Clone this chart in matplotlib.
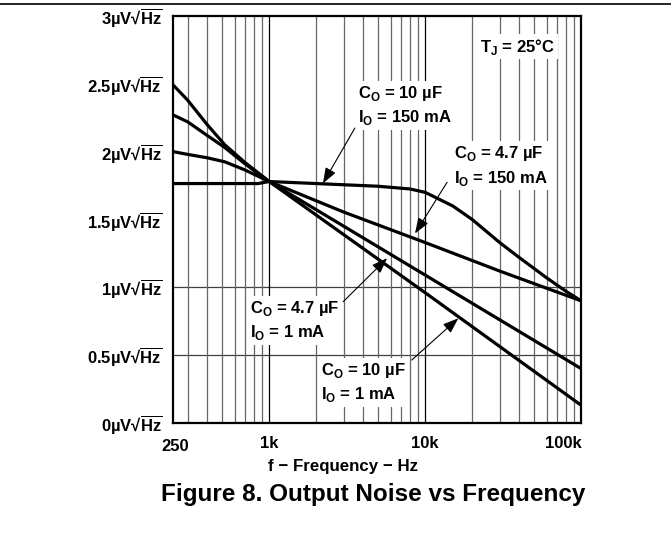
import matplotlib
matplotlib.use("Agg")
import matplotlib.pyplot as plt
from matplotlib.ticker import LogLocator, NullFormatter
from matplotlib.lines import Line2D

plt.rcParams['font.family'] = ['Liberation Sans', 'DejaVu Sans']
plt.rcParams['font.weight'] = 'bold'
plt.rcParams['mathtext.fontset'] = 'custom'
plt.rcParams['mathtext.rm'] = 'Liberation Sans:bold'
plt.rcParams['mathtext.bf'] = 'Liberation Sans:bold'

# noise curves (Hz, uV/rtHz)
freq_10u_150m = [243, 400, 600, 850, 1000, 2000, 5000, 8000, 10000, 15000,
                 20000, 30000, 40000, 60000, 80000, 100000]
noise_10u_150m = [1.765, 1.765, 1.765, 1.765, 1.78, 1.765, 1.745, 1.725, 1.70, 1.60,
                  1.50, 1.33, 1.22, 1.07, 0.97, 0.90]

freq_47u_150m = [243, 300, 400, 520, 700, 1000, 3000, 10000, 30000, 100000]
noise_47u_150m = [2.0, 1.98, 1.955, 1.925, 1.865, 1.78, 1.555, 1.33, 1.12, 0.90]

freq_47u_1m = [243, 300, 400, 520, 700, 1000, 10000, 100000]
noise_47u_1m = [2.27, 2.22, 2.12, 2.03, 1.91, 1.78, 1.09, 0.40]

freq_10u_1m = [243, 300, 400, 520, 700, 1000, 10000, 100000]
noise_10u_1m = [2.49, 2.38, 2.20, 2.05, 1.92, 1.78, 0.96, 0.13]

y_ticks = [0, 0.5, 1, 1.5, 2, 2.5, 3]
x_ticks = [1e3, 1e4, 1e5]
x_tick_labels = ['1k', '10k', '100k']

fig = plt.figure(figsize=(6.71, 5.48), dpi=100)
ax = fig.add_axes([0.2583, 0.2281, 0.608, 0.7427])

ax.set_xscale('log')
ax.set_xlim(243, 1e5)
ax.set_ylim(0, 3)

# grid: every log line vertically, only 0.5 and 1 horizontally
ax.xaxis.set_minor_locator(LogLocator(base=10, subs=range(2, 10)))
ax.xaxis.set_minor_formatter(NullFormatter())
ax.grid(which='minor', axis='x', color='0.4', lw=0.9)
ax.grid(which='major', axis='x', color='k', lw=0.9)
for yv in [0.5, 1.0]:
    ax.axhline(yv, color='0.25', lw=0.9, zorder=1)

for f, n in [(freq_10u_150m, noise_10u_150m), (freq_47u_150m, noise_47u_150m),
             (freq_47u_1m, noise_47u_1m), (freq_10u_1m, noise_10u_1m)]:
    ax.plot(f, n, color='k', lw=2.3, zorder=3)

ax.set_xticks(x_ticks, x_tick_labels)
ax.get_xticklabels()[-1].set_ha('right')
ax.set_yticks(y_ticks, [f"{v:g}µV√$\\overline{{\\mathbf{{Hz}}}}$" for v in y_ticks])
ax.tick_params(axis='both', which='both', length=0, labelsize=12)
ax.tick_params(axis='x', pad=9)
ax.tick_params(axis='y', pad=8)
ax.text(250, -0.058, '250', transform=ax.get_xaxis_transform(),
        ha='center', va='center', fontsize=12)

for s in ax.spines.values():
    s.set_linewidth(1.6)

# labels and arrows
box = dict(facecolor='white', edgecolor='none', pad=2)
lbl = dict(transform=ax.transAxes, fontsize=12, ha='left', va='center',
           linespacing=1.4, bbox=box, zorder=4)
ax.text(0.844, 0.925, 'T$_\\mathbf{J}$ = 25°C', transform=ax.transAxes, fontsize=12,
        ha='center', va='center', bbox=box, zorder=4)
ax.text(0.453, 0.780, 'C$_\\mathbf{O}$ = 10 µF\nI$_\\mathbf{O}$ = 150 mA', **lbl)
ax.text(0.689, 0.632, 'C$_\\mathbf{O}$ = 4.7 µF\nI$_\\mathbf{O}$ = 150 mA', **lbl)
ax.text(0.188, 0.252, 'C$_\\mathbf{O}$ = 4.7 µF\nI$_\\mathbf{O}$ = 1 mA', **lbl)
ax.text(0.361, 0.0995, 'C$_\\mathbf{O}$ = 10 µF\nI$_\\mathbf{O}$ = 1 mA', **lbl)

arrow = dict(arrowstyle='-|>,head_length=0.95,head_width=0.35', color='k', lw=0.8,
             shrinkA=0, shrinkB=0, mutation_scale=10)
ax.annotate('', xy=(2210, 1.766), xytext=(3540, 2.174), arrowprops=arrow, zorder=5)
ax.annotate('', xy=(8600, 1.397), xytext=(13800, 1.774), arrowprops=arrow, zorder=5)
ax.annotate('', xy=(5700, 1.215), xytext=(2980, 0.894), arrowprops=arrow, zorder=5)
ax.annotate('', xy=(16300, 0.772), xytext=(8190, 0.464), arrowprops=arrow, zorder=5)

fig.text(342.5 / 671, 1 - 466 / 548, 'f − Frequency − Hz', ha='center', va='center',
         fontsize=12.2)
fig.text(373 / 671, 1 - 494 / 548, 'Figure 8. Output Noise vs Frequency', ha='center',
         va='center', fontsize=17.5)
fig.add_artist(Line2D([0, 1], [1 - 4 / 548] * 2, color='k', lw=1.2,
                      transform=fig.transFigure))

fig.savefig('out.png', dpi=100)
